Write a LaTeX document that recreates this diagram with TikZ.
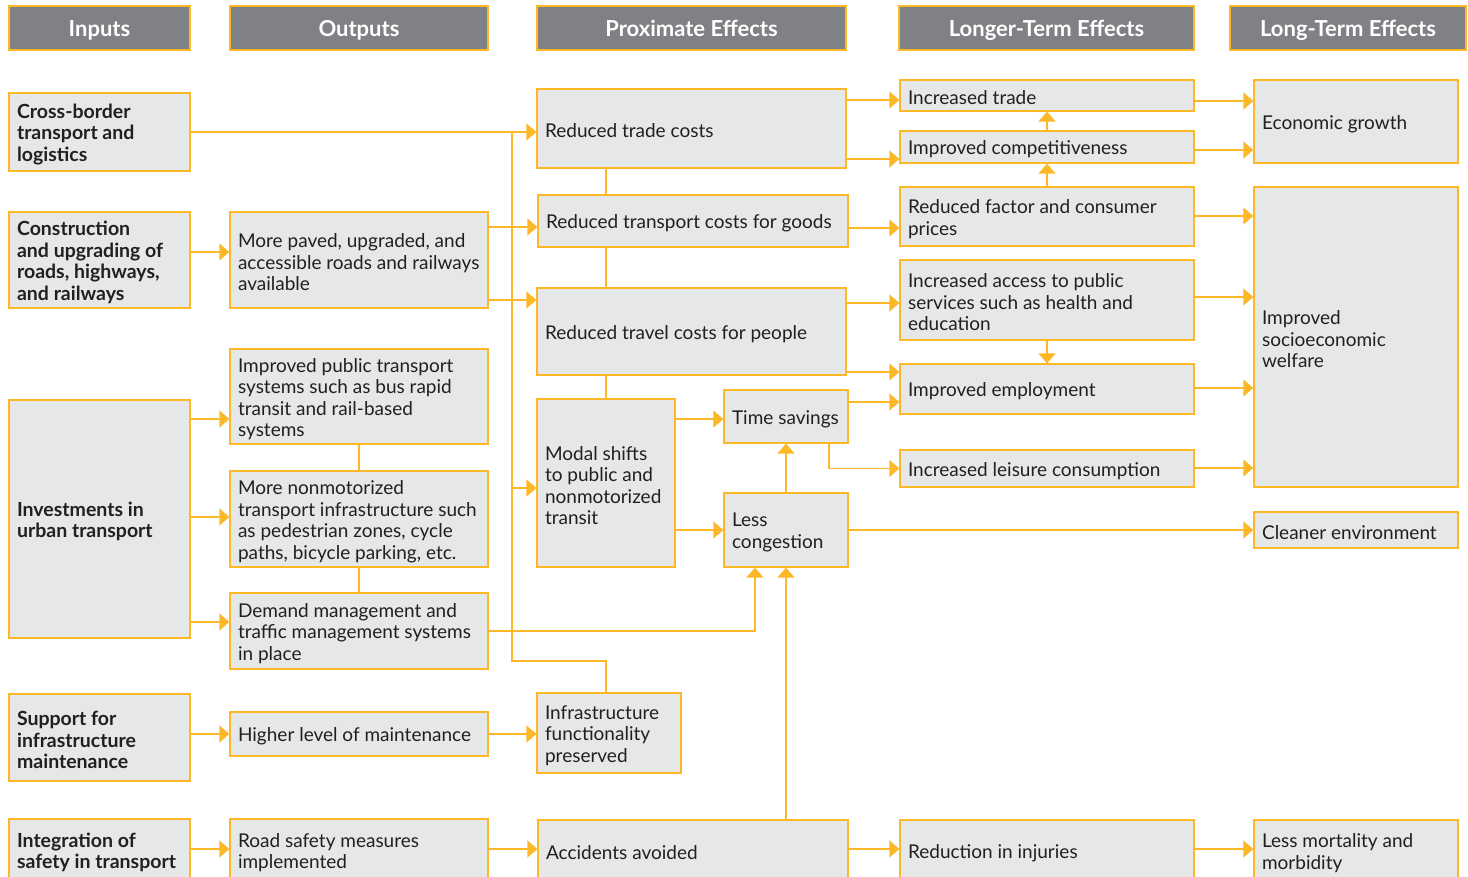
\documentclass[tikz,border=0pt]{standalone}
\usepackage{fontspec}
\setmainfont{Lato}
\usetikzlibrary{arrows.meta,calc}
\definecolor{orng}{HTML}{FDB827}
\definecolor{boxgray}{HTML}{E6E7E8}
\definecolor{hdrgray}{HTML}{808184}
\definecolor{txt}{HTML}{231F20}
\tikzset{
  box/.style={draw=orng, fill=boxgray, line width=1.3pt, inner sep=0pt, anchor=center},
  hdrbox/.style={draw=orng, fill=hdrgray, line width=1.3pt, inner sep=0pt, anchor=center},
  hdrtx/.style={text=white, inner sep=0pt, font=\fontsize{22}{26}\selectfont\bfseries},
  tx/.style={anchor=west, align=left, inner sep=0pt, text=txt, font=\fontsize{19}{21.5}\selectfont},
  bt/.style={font=\fontsize{19.5}{21.5}\selectfont\bfseries},
  arr/.style={draw=orng, line width=1.5pt, -{Triangle[length=10pt,width=17pt]}},
  ln/.style={draw=orng, line width=1.5pt},
}
\newcommand\bx[7][]{%
  \node[box, minimum width={#5-#3}, minimum height={#6-#4}] (#2) at ({(#3+#5)/2},{(#4+#6)/2}) {};
  \node[tx,#1] (#2-t) at ([xshift=8.5pt,yshift=-2.5pt]#2.west) {#7};}
\newcommand\hd[6]{%
  \node[hdrbox, minimum width={#4-#2}, minimum height={#5-#3}] (#1) at ({(#2+#4)/2},{(#3+#5)/2}) {};
  \node[hdrtx, anchor=base] (#1-t) at ([yshift=-8pt]#1.center) {#6};}
\begin{document}
\begin{tikzpicture}[x=1pt,y=-1pt]
\clip (0,0) rectangle (1468,876);
\fill[white] (0,0) rectangle (1468,876);
% headers
\hd{h1}{9}{6}{190}{50}{Inputs}
\hd{h2}{230}{6}{488}{50}{Outputs}
\hd{h3}{537}{6}{846}{50}{Proximate Effects}
\hd{h4}{899}{6}{1194}{50}{Longer-Term Effects}
\hd{h5}{1230}{6}{1466}{50}{Long-Term Effects}
% inputs
\bx[bt]{crossb}{9}{93}{190}{171}{Cross-border\\transport and\\logistics}
\bx[bt]{constr}{9}{212}{190}{308}{Construction\\and upgrading of\\roads, highways,\\and railways}
\bx[bt]{invest}{9}{400}{190}{638}{Investments in\\urban transport}
\bx[bt]{support}{9}{694}{190}{781}{Support for\\infrastructure\\maintenance}
\bx[bt]{integ}{9}{819}{190}{881}{Integration of\\safety in transport}
% outputs
\bx{paved}{230}{212}{488}{308}{More paved, upgraded, and\\accessible roads and railways\\available}
\bx{pubtr}{230}{349}{488}{444}{Improved public transport\\systems such as bus rapid\\transit and rail-based\\systems}
\bx{nonmot}{230}{471}{488}{567}{More nonmotorized\\transport infrastructure such\\as pedestrian zones, cycle\\paths, bicycle parking, etc.}
\bx{demand}{230}{593}{488}{669}{Demand management and\\traffic management systems\\in place}
\bx{higher}{230}{712}{488}{756}{Higher level of maintenance}
\bx{road}{230}{819}{488}{881}{Road safety measures\\implemented}
% proximate
\bx{rtc}{537}{89}{846}{168}{Reduced trade costs}
\bx{rtg}{538}{195}{848}{247}{Reduced transport costs for goods}
\bx{rtp}{537}{288}{846}{375}{Reduced travel costs for people}
\bx{modal}{537}{399}{675}{567}{Modal shifts\\to public and\\nonmotorized\\transit}
\bx{timesav}{724}{390}{848}{443}{Time savings}
\bx{lesscong}{724}{493}{848}{567}{Less\\congestion}
\bx{infra}{537}{693}{681}{773}{Infrastructure\\functionality\\preserved}
\bx{accid}{538}{820}{848}{881}{Accidents avoided}
% longer-term
\bx{inctrade}{900}{80}{1194}{111}{Increased trade}
\bx{impcomp}{900}{131}{1194}{163}{Improved competitiveness}
\bx{redfac}{900}{187}{1194}{246}{Reduced factor and consumer\\prices}
\bx{incacc}{900}{260}{1194}{340}{Increased access to public\\services such as health and\\education}
\bx{impemp}{900}{364}{1194}{414}{Improved employment}
\bx{incleis}{900}{450}{1194}{487}{Increased leisure consumption}
\bx{reduct}{900}{820}{1194}{881}{Reduction in injuries}
% long-term
\bx{econ}{1254}{80}{1458}{163}{Economic growth}
\bx{welfare}{1254}{187}{1458}{487}{Improved\\socioeconomic\\welfare}
\bx{cleaner}{1254}{512}{1458}{548}{Cleaner environment}
\bx{lessmort}{1254}{820}{1458}{881}{Less mortality and\\morbidity}
% ---- connectors: left
\coordinate (jtop) at (512,132);
\coordinate (jbot) at (512,661);
\draw[arr] (crossb.east |- jtop) -- (rtc.west |- jtop);
\draw[ln] (infra.north -| modal.north) |- (jbot) -- (jtop);
\draw[arr] (jbot |- 0,488) -- (modal.west |- 0,488);
\draw[arr] (constr.east |- 0,252) -- (paved.west |- 0,252);
\draw[arr] (paved.east |- 0,227) -- (rtg.west |- 0,227);
\draw[arr] (paved.east |- 0,300) -- (rtp.west |- 0,300);
\draw[arr] (invest.east |- 0,419) -- (pubtr.west |- 0,419);
\draw[arr] (invest.east |- 0,517) -- (nonmot.west |- 0,517);
\draw[arr] (invest.east |- 0,622) -- (demand.west |- 0,622);
\draw[ln] (pubtr.south) -- (nonmot.north);
\draw[ln] (nonmot.south) -- (demand.north);
\draw[arr] (demand.east |- 0,631) -| ([xshift=-31pt]lesscong.south);
\draw[arr] (support.east |- higher.west) -- (higher.west);
\draw[arr] (higher.east) -- (higher.east -| infra.west);
\draw[arr] (integ.east |- 0,849) -- (road.west |- 0,849);
\draw[arr] (road.east |- 0,849) -- (accid.west |- 0,849);
% proximate column
\draw[ln] (rtc.south -| modal.north) -- (rtg.north -| modal.north);
\draw[ln] (rtg.south -| modal.north) -- (rtp.north -| modal.north);
\draw[ln] (rtp.south -| modal.north) -- (modal.north);
\draw[arr] (modal.east |- 0,419) -- (timesav.west |- 0,419);
\draw[arr] (modal.east |- 0,530) -- (lesscong.west |- 0,530);
\draw[arr] (accid.north -| lesscong.south) -- (lesscong.south);
\draw[arr] (lesscong.north) -- (timesav.south);
% right side
\draw[arr] (rtc.east |- 0,100) -- (inctrade.west |- 0,100);
\draw[arr] (rtc.east |- 0,159) -- (impcomp.west |- 0,159);
\draw[arr] (rtg.east |- 0,228) -- (redfac.west |- 0,228);
\draw[arr] (rtp.east |- 0,303) -- (incacc.west |- 0,303);
\draw[arr] (rtp.east |- 0,372) -- (impemp.west |- 0,372);
\draw[arr] (timesav.east |- 0,402) -- (impemp.west |- 0,402);
\draw[arr] ([xshift=43pt]timesav.south) |- (incleis.west);
\draw[arr] (lesscong.east) -- (lesscong.east -| cleaner.west);
\draw[arr] (impcomp.north) -- (inctrade.south);
\draw[arr] (redfac.north) -- (impcomp.south);
\draw[arr] (incacc.south) -- (impemp.north);
\draw[arr] (inctrade.east |- 0,101) -- (econ.west |- 0,101);
\draw[arr] (impcomp.east |- 0,150) -- (econ.west |- 0,150);
\draw[arr] (redfac.east |- 0,216) -- (welfare.west |- 0,216);
\draw[arr] (incacc.east |- 0,297) -- (welfare.west |- 0,297);
\draw[arr] (impemp.east |- 0,388) -- (welfare.west |- 0,388);
\draw[arr] (incleis.east |- 0,468) -- (welfare.west |- 0,468);
\draw[arr] (accid.east |- 0,849) -- (reduct.west |- 0,849);
\draw[arr] (reduct.east |- 0,849) -- (lessmort.west |- 0,849);
\end{tikzpicture}
\end{document}
